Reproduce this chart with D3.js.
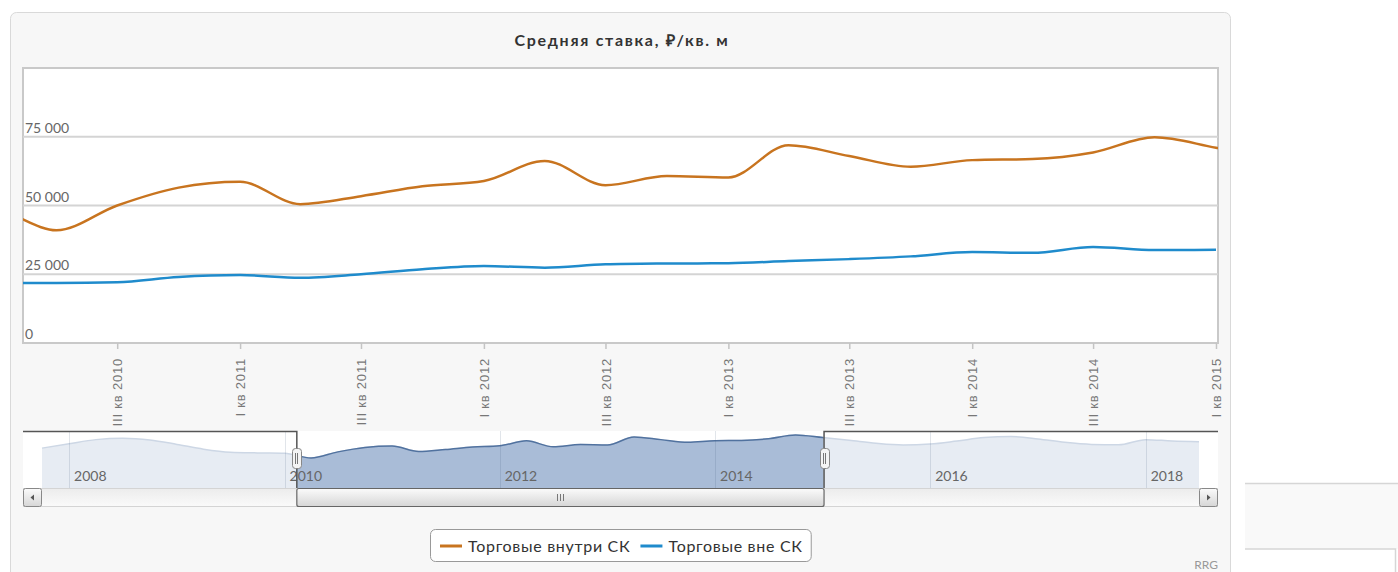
<!DOCTYPE html>
<html>
<head>
<meta charset="utf-8">
<script src="https://cdn.jsdelivr.net/npm/d3@7"></script>
<style>
  body { margin: 0; background: #fff; }
  svg { display: block; }
</style>
</head>
<body>
<svg id="chart" width="1398" height="572"></svg>
<script>
// ----- Data (quarterly, ₽ per sq. m) -----
const quarters = [
  "2007-10",
  "2008-01", "2008-04", "2008-07", "2008-10",
  "2009-01", "2009-04", "2009-07", "2009-10",
  "2010-01", "2010-04", "2010-07", "2010-10",
  "2011-01", "2011-04", "2011-07", "2011-10",
  "2012-01", "2012-04", "2012-07", "2012-10",
  "2013-01", "2013-04", "2013-07", "2013-10",
  "2014-01", "2014-04", "2014-07", "2014-10",
  "2015-01", "2015-04", "2015-07", "2015-10",
  "2016-01", "2016-04", "2016-07", "2016-10",
  "2017-01", "2017-04", "2017-07", "2017-10",
  "2018-01", "2018-04", "2018-07"
];
const insideSK = [
  55500,
  62000, 68000, 70000, 67500,
  61000, 54000, 49500, 48500,
  48000, 41000, 50000, 56500,
  58600, 50500, 53400, 57000,
  58900, 66200, 57400, 60700,
  60200, 71900, 68000, 64100,
  66500, 66900, 69300, 74800,
  71000, 67000, 62500, 60000,
  61500, 66000, 71000, 72500,
  69000, 64000, 61000, 60500,
  68000, 66000, 65000
];
const outsideSK = [
  null,
  null, null, null, null,
  null, null, null, null,
  21800, 21800, 22100, 24000,
  24700, 23700, 25000, 26800,
  28000, 27400, 28600, 28900,
  29000, 29800, 30500, 31500,
  33100, 32800, 34900, 33800,
  33900, null, null, null,
  null, null, null, null,
  null, null, null, null,
  null, null, null
];
const seriesNames = ["Торговые внутри СК", "Торговые вне СК"];
const seriesColors = ["#c8741f", "#1f8bcc"];
const yTicks = [0, 25000, 50000, 75000];
const yMax = 100000;
const viewRange = ["2010-02-10", "2015-01-04"];   // navigator selection
const quarterNames = ["I", "II", "III", "IV"];
const chartTitle = "Средняя ставка, ₽/кв. м";
const credit = "RRG";

// ----- Layout -----
const PLOT = { left: 23, right: 1218, top: 68, bottom: 343 };
const NAV = { left: 23, right: 1218, top: 431, bottom: 488, dataLeft: 42, dataRight: 1199 };
const SCROLL = { top: 488, bottom: 507, btn: 19 };
const FONT = "Lato, 'Open Sans', sans-serif";

const parseMonth = d3.timeParse("%Y-%m");
const parseDay = d3.timeParse("%Y-%m-%d");
const dates = quarters.map(parseMonth);
const view = viewRange.map(parseDay);

const series = [insideSK, outsideSK].map((vals, k) => ({
  name: seriesNames[k],
  color: seriesColors[k],
  points: vals.map((v, i) => ({ date: dates[i], value: v })).filter(p => p.value != null)
}));

const svg = d3.select("#chart");
const defs = svg.append("defs");

// outer panel
svg.append("rect")
  .attr("x", 10.5).attr("y", 12.5)
  .attr("width", 1220).attr("height", 600)
  .attr("rx", 6)
  .attr("fill", "#f7f7f7")
  .attr("stroke", "#d9d9d9");

// stray box on the right edge
svg.append("rect")
  .attr("x", 1245).attr("y", 483.5).attr("width", 160).attr("height", 65.5)
  .attr("fill", "#f9f9f9");
svg.append("path")
  .attr("d", "M1245,483.5H1398M1245,549H1395.5V572")
  .attr("fill", "none").attr("stroke", "#d6d6d6").attr("stroke-width", 1.5);

// title
svg.append("text")
  .attr("x", 622).attr("y", 46)
  .attr("text-anchor", "middle")
  .attr("font-family", FONT)
  .attr("font-size", 16)
  .attr("font-weight", 700)
  .attr("letter-spacing", 1.7)
  .attr("fill", "#333")
  .text(chartTitle);

// ----- Main plot -----
const x = d3.scaleTime().domain(view).range([PLOT.left, PLOT.right]);
const y = d3.scaleLinear().domain([0, yMax]).range([PLOT.bottom, PLOT.top]);
const fmtNum = d3.formatLocale({ decimal: ",", thousands: " ", grouping: [3], currency: ["", ""] }).format(",d");
const fmtQuarter = d => `${quarterNames[Math.floor(d.getMonth() / 3)]} кв ${d.getFullYear()}`;

svg.append("rect")
  .attr("x", PLOT.left).attr("y", PLOT.top)
  .attr("width", PLOT.right - PLOT.left).attr("height", PLOT.bottom - PLOT.top)
  .attr("fill", "#fff")
  .attr("stroke", "#c9c9c9")
  .attr("stroke-width", 2);

// grid + y labels
const yG = svg.append("g");
yG.selectAll("line").data(yTicks.filter(v => v > 0)).join("line")
  .attr("x1", PLOT.left).attr("x2", PLOT.right)
  .attr("y1", d => y(d)).attr("y2", d => y(d))
  .attr("stroke", "#d4d4d4").attr("stroke-width", 2);
yG.selectAll("text").data(yTicks).join("text")
  .attr("x", PLOT.left + 2).attr("y", d => y(d) - 4)
  .attr("font-family", FONT).attr("font-size", 14)
  .attr("fill", "#666")
  .text(d => fmtNum(d));

// x axis
const xAxisG = svg.append("g")
  .attr("transform", `translate(0,${PLOT.bottom})`)
  .call(d3.axisBottom(x).ticks(d3.timeMonth.every(6)).tickSize(6).tickFormat(fmtQuarter));
xAxisG.select(".domain").remove();
xAxisG.selectAll(".tick line").attr("stroke", "#c4c4c4").attr("stroke-width", 1.5);
xAxisG.selectAll(".tick text")
  .attr("transform", "rotate(-90)")
  .attr("x", -15).attr("y", 0).attr("dy", "0.35em")
  .attr("text-anchor", "end")
  .attr("font-family", "'Liberation Sans', Arial, sans-serif")
  .attr("font-size", 13)
  .attr("letter-spacing", 0.8)
  .attr("fill", "#777");

// lines
defs.append("clipPath").attr("id", "plotClip")
  .append("rect")
  .attr("x", PLOT.left).attr("y", PLOT.top)
  .attr("width", PLOT.right - PLOT.left).attr("height", PLOT.bottom - PLOT.top);

const line = d3.line().curve(d3.curveMonotoneX).x(d => x(d.date)).y(d => y(d.value));
svg.append("g").attr("clip-path", "url(#plotClip)")
  .selectAll("path").data(series.slice().reverse()).join("path")
  .attr("d", d => line(d.points))
  .attr("fill", "none")
  .attr("stroke", d => d.color)
  .attr("stroke-width", 2.5)
  .attr("stroke-linejoin", "round");

// ----- Navigator -----
const nx = d3.scaleTime().domain(d3.extent(dates)).range([NAV.dataLeft, NAV.dataRight]);
const ny = d3.scaleLinear().domain(d3.extent(insideSK)).range([458, 435]);
const navPts = series[0].points;
const selL = nx(view[0]), selR = nx(view[1]);

svg.append("rect")
  .attr("x", NAV.left).attr("y", NAV.top)
  .attr("width", NAV.right - NAV.left).attr("height", NAV.bottom - NAV.top)
  .attr("fill", "#fff");

const navArea = d3.area().curve(d3.curveMonotoneX)
  .x(d => nx(d.date)).y0(NAV.bottom).y1(d => ny(d.value));
const navLine = d3.line().curve(d3.curveMonotoneX)
  .x(d => nx(d.date)).y(d => ny(d.value));

svg.append("path").attr("d", navArea(navPts)).attr("fill", "#e7ecf3");
svg.append("path").attr("d", navLine(navPts))
  .attr("fill", "none").attr("stroke", "#cdd7e5").attr("stroke-width", 1.5);

defs.append("clipPath").attr("id", "selClip")
  .append("rect")
  .attr("x", selL).attr("y", NAV.top)
  .attr("width", selR - selL).attr("height", NAV.bottom - NAV.top);
const selG = svg.append("g").attr("clip-path", "url(#selClip)");
selG.append("path").attr("d", navArea(navPts)).attr("fill", "#a9bcd7");
selG.append("path").attr("d", navLine(navPts))
  .attr("fill", "none").attr("stroke", "#51729f").attr("stroke-width", 1.5);

// navigator year grid + labels
const navYears = nx.ticks(d3.timeYear.every(2));
svg.append("g").selectAll("line").data(navYears).join("line")
  .attr("x1", d => Math.round(nx(d)) + 0.5).attr("x2", d => Math.round(nx(d)) + 0.5)
  .attr("y1", NAV.top).attr("y2", NAV.bottom)
  .attr("stroke", "#46607f").attr("stroke-opacity", 0.16);
svg.append("g").selectAll("text").data(navYears).join("text")
  .attr("x", d => nx(d) + 5).attr("y", 481)
  .attr("font-family", FONT).attr("font-size", 14)
  .attr("fill", "#666")
  .text(d => d.getFullYear());

// outline
svg.append("path")
  .attr("d", `M${NAV.left},${NAV.top + 0.5}H${selL + 0.5}V${SCROLL.bottom}M${selR + 0.5},${SCROLL.bottom}V${NAV.top + 0.5}H${NAV.right}`)
  .attr("fill", "none").attr("stroke", "#555").attr("stroke-width", 1.5);

// ----- Scrollbar -----
const grad = defs.append("linearGradient").attr("id", "btnGrad")
  .attr("x1", 0).attr("y1", 0).attr("x2", 0).attr("y2", 1);
grad.append("stop").attr("offset", 0).attr("stop-color", "#fbfbfb");
grad.append("stop").attr("offset", 1).attr("stop-color", "#d6d6d6");
const trackGrad = defs.append("linearGradient").attr("id", "trackGrad")
  .attr("x1", 0).attr("y1", 0).attr("x2", 0).attr("y2", 1);
trackGrad.append("stop").attr("offset", 0).attr("stop-color", "#ececec");
trackGrad.append("stop").attr("offset", 1).attr("stop-color", "#fafafa");

svg.append("rect")
  .attr("x", NAV.left + 0.5).attr("y", SCROLL.top + 0.5)
  .attr("width", NAV.right - NAV.left - 1).attr("height", SCROLL.bottom - SCROLL.top - 1)
  .attr("fill", "url(#trackGrad)").attr("stroke", "#d4d4d4");

svg.append("rect")
  .attr("x", selL + 0.5).attr("y", SCROLL.top + 0.5)
  .attr("width", selR - selL).attr("height", SCROLL.bottom - SCROLL.top - 1)
  .attr("rx", 2)
  .attr("fill", "url(#btnGrad)").attr("stroke", "#666").attr("stroke-width", 1.2);

const midX = Math.round((selL + selR) / 2);
svg.append("path")
  .attr("d", [-3, 0, 3].map(o => `M${midX + o + 0.5},${SCROLL.top + 6}V${SCROLL.bottom - 6}`).join(""))
  .attr("stroke", "#777");

[[NAV.left, -1], [NAV.right - SCROLL.btn, 1]].forEach(([bx, dir]) => {
  svg.append("rect")
    .attr("x", bx + 0.5).attr("y", SCROLL.top + 0.5)
    .attr("width", SCROLL.btn - 1).attr("height", SCROLL.bottom - SCROLL.top - 1)
    .attr("rx", 2)
    .attr("fill", "url(#btnGrad)").attr("stroke", "#888");
  const cx = bx + SCROLL.btn / 2, cy = (SCROLL.top + SCROLL.bottom) / 2;
  svg.append("path")
    .attr("d", `M${cx + dir * 2},${cy}L${cx - dir * 1.5},${cy - 3}L${cx - dir * 1.5},${cy + 3}Z`)
    .attr("fill", "#555");
});

// handles
[selL, selR].forEach(hx => {
  const rx = Math.round(hx) - 4;
  svg.append("rect")
    .attr("x", rx + 0.5).attr("y", 448.5).attr("width", 9).attr("height", 20)
    .attr("rx", 3)
    .attr("fill", "#f4f4f4").attr("stroke", "#888");
  svg.append("path")
    .attr("d", `M${rx + 3.5},453V464M${rx + 5.5},453V464`)
    .attr("stroke", "#777");
});

// ----- Legend -----
const legend = svg.append("g");
const legItems = legend.selectAll("g").data(series).join("g");
legItems.append("line")
  .attr("x1", 0).attr("x2", 22).attr("y1", 0).attr("y2", 0)
  .attr("stroke", d => d.color).attr("stroke-width", 3);
legItems.append("text")
  .attr("x", 28).attr("y", 6)
  .attr("font-family", FONT).attr("font-size", 16)
  .attr("letter-spacing", 0.7)
  .attr("fill", "#333")
  .text(d => d.name);
let lx = 440;
legItems.each(function () {
  d3.select(this).attr("transform", `translate(${lx},546)`);
  lx += 28 + d3.select(this).select("text").node().getComputedTextLength() + 10;
});
legend.insert("rect", ":first-child")
  .attr("x", 430.5).attr("y", 529.5)
  .attr("width", lx - 10 + 8 - 430).attr("height", 32)
  .attr("rx", 5)
  .attr("fill", "#fff").attr("stroke", "#999");

// credit
svg.append("text")
  .attr("x", 1218).attr("y", 569)
  .attr("text-anchor", "end")
  .attr("font-family", FONT).attr("font-size", 12)
  .attr("fill", "#999")
  .text(credit);
</script>
</body>
</html>
